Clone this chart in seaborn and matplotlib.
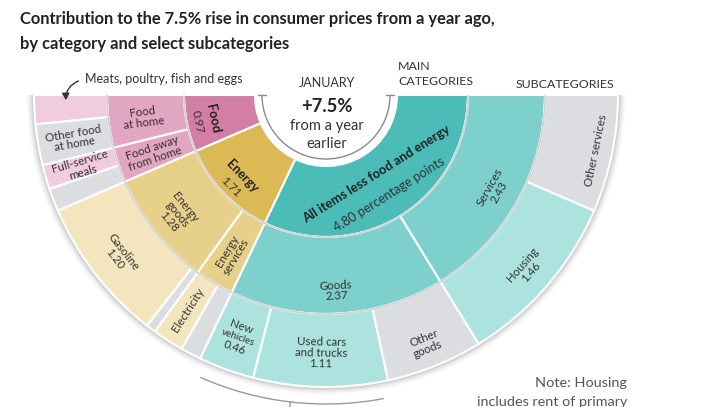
import numpy as np
import matplotlib
matplotlib.use("Agg")
import matplotlib.pyplot as plt
from matplotlib.patches import Wedge, Arc, FancyArrowPatch
import seaborn as sns

# contributions (percentage points) to the 7.5% January rise
main_labels = ["Food", "Energy", "All items less food and energy"]
main_values = [0.97, 1.71, 4.80]

sub_labels = ["Food\nat home", "Food away\nfrom home", "Energy\ngoods\n1.28",
              "Energy\nservices", "Goods\n2.37", "Services\n2.43"]
sub_values = [0.58, 0.39, 1.28, 0.43, 2.37, 2.43]
sub_parent = [0, 0, 1, 1, 2, 2]

outer_labels = ["", "Other food\nat home", "Full-service\nmeals", "",
                "Gasoline\n1.20", "", "Electricity", "",
                "New\nvehicles\n0.46", "Used cars\nand trucks\n1.11", "Other\ngoods",
                "Housing\n1.46", "Other services"]
outer_values = [0.24, 0.34, 0.20, 0.19, 1.20, 0.08, 0.26, 0.17,
                0.46, 1.11, 0.80, 1.46, 0.97]
outer_parent = [0, 0, 0, 0, 1, 1, 1, 1, 2, 2, 2, 2, 2]
outer_other = [False, True, False, True, False, True, False, True,
               False, False, True, False, True]

sns.set_theme(style="white")
plt.rcParams["font.family"] = ["Lato", "DejaVu Sans"]

shades = [sns.blend_palette(["#d27ea5", "#f1cbde"], 3),
          sns.blend_palette(["#dbba55", "#f3e6be"], 3),
          sns.blend_palette(["#4cbcb8", "#ade3df"], 3)]
gray = "#dcdde0"
ink = "#333333"

fig = plt.figure(figsize=(7.13, 4.07), dpi=100)
ax = fig.add_axes([0, 0, 1, 1])
ax.set_xlim(0, 713)
ax.set_ylim(407, 0)
ax.axis("off")

cx, cy = 326, 95
r0, r1, r2, r3 = 71, 142, 219, 292
total = sum(main_values)
scale = 180.0 / total


def spans(values):
    edges = np.concatenate([[0], np.cumsum(values)]) * scale
    # angle measured from the left, going down through the bottom
    return [(180 - b, 180 - a) for a, b in zip(edges[:-1], edges[1:])]


def place(theta, r):
    t = np.deg2rad(theta)
    return cx + r * np.cos(t), cy + r * np.sin(t)


def rot(theta, mode):
    phi = -theta  # screen angle (y up)
    a = phi + 90 if mode == "tan" else phi
    while a > 90:
        a -= 180
    while a <= -90:
        a += 180
    return a


# soft shadow around the outer ring
for k, al in zip(range(1, 9), np.linspace(0.05, 0.01, 8)):
    ax.add_patch(Wedge((cx, cy), r3 + k, 0, 180, width=k + 2, color="#000000",
                       alpha=al, lw=0, zorder=1))

main_sp = spans(main_values)
sub_sp = spans(sub_values)
out_sp = spans(outer_values)

for (t1, t2), i in zip(main_sp, range(3)):
    ax.add_patch(Wedge((cx, cy), r1, t1, t2, width=r1 - r0, facecolor=shades[i][0],
                       edgecolor="white", lw=1.5, zorder=3))
for (t1, t2), p in zip(sub_sp, sub_parent):
    ax.add_patch(Wedge((cx, cy), r2, t1, t2, width=r2 - r1, facecolor=shades[p][1],
                       edgecolor="white", lw=1.5, zorder=3))
for (t1, t2), p, o in zip(out_sp, outer_parent, outer_other):
    ax.add_patch(Wedge((cx, cy), r3, t1, t2, width=r3 - r2,
                       facecolor=gray if o else shades[p][2],
                       edgecolor="white", lw=1.5, zorder=3))

# thin grey ring borders
for r in (r1, r2):
    ax.add_patch(Arc((cx, cy), 2 * r, 2 * r, theta1=0, theta2=180,
                     color="#d0d0d0", lw=1.2, zorder=4))

# inner bracket arc with T ends
ra = 64
ax.add_patch(Arc((cx, cy), 2 * ra, 2 * ra, theta1=0, theta2=180, color="#8a8a8a",
                 lw=1.0, zorder=4))
for sx in (cx - ra, cx + ra):
    ax.plot([sx - 4, sx + 4], [cy, cy], color="#8a8a8a", lw=1.0, zorder=4)

# --- labels ---
fs = 8.3
# main ring
mid = [(a + b) / 2 for a, b in main_sp]
for i, (rb, rn) in enumerate([(116, 131), (117, 132), (94, 118)]):
    val = f"{main_values[i]:.2f}" + (" percentage points" if i == 2 else "")
    x, y = place(mid[i], rb)
    ax.text(x, y, main_labels[i], rotation=rot(mid[i], "tan"), ha="center",
            va="center", fontsize=fs + 1.0, weight="bold", color="#222222",
            rotation_mode="anchor", zorder=5)
    x, y = place(mid[i], rn)
    ax.text(x, y, val, rotation=rot(mid[i], "tan"), ha="center", va="center",
            fontsize=fs + (0.9 if i == 2 else 0.3), color=ink,
            rotation_mode="anchor", zorder=5)

# middle ring
sub_mode = ["rad", "rad", "tan", "rad", "tan", "tan"]
sub_r = [184, 182, 191, 185, 196, 193]
for (t1, t2), lab, m, r in zip(sub_sp, sub_labels, sub_mode, sub_r):
    th = (t1 + t2) / 2
    x, y = place(th, r)
    ax.text(x, y, lab, rotation=rot(th, m), ha="center", va="center",
            fontsize=fs, color=ink, linespacing=1.0,
            rotation_mode="anchor", zorder=5)

# outer ring
out_mode = ["rad", "rad", "rad", "rad", "tan", "rad", "rad", "rad",
            "tan", "tan", "tan", "tan", "tan"]
out_r = [256, 256, 255, 256, 262, 256, 255, 256, 258, 258, 268, 265, 276]
for (t1, t2), lab, m, r in zip(out_sp, outer_labels, out_mode, out_r):
    if not lab:
        continue
    th = (t1 + t2) / 2
    x, y = place(th, r)
    if lab.startswith("New"):
        ax.text(x, y, "New\n\n0.46", rotation=rot(th, m), ha="center", va="center",
                fontsize=fs, color=ink, linespacing=1.0,
                rotation_mode="anchor", zorder=5)
        ax.text(x, y, "vehicles", rotation=rot(th, m), ha="center", va="center",
                fontsize=fs - 1.2, color=ink, rotation_mode="anchor", zorder=5)
        continue
    ax.text(x, y, lab, rotation=rot(th, m), ha="center", va="center",
            fontsize=fs, color=ink, linespacing=1.0,
            rotation_mode="anchor", zorder=5)

# bracket under the car categories
c1, c2 = out_sp[9][0], out_sp[8][1]
rb = 309
ax.add_patch(Arc((cx, cy), 2 * rb, 2 * rb, theta1=c1 + 1.5, theta2=c2 - 1.5,
                 color="#9a9a9a", lw=1.0, zorder=4))
tm = (c1 + c2) / 2
xa, ya = place(tm, rb)
xb, yb = place(tm, rb + 14)
ax.plot([xa, xb], [ya, yb], color="#9a9a9a", lw=1.0, zorder=4)

# centre text
ax.text(cx + 1, 83, "JANUARY", ha="center", va="center", fontsize=9.0, color=ink)
ax.text(cx + 1, 106, "+7.5%", ha="center", va="center", fontsize=13.2,
        weight="bold", color="#222222")
ax.text(cx + 1, 126, "from a year", ha="center", va="center", fontsize=10.5, color=ink)
ax.text(cx + 1, 144, "earlier", ha="center", va="center", fontsize=10.5, color=ink)

ax.text(398, 74, "MAIN\nCATEGORIES", ha="left", va="center", fontsize=8.9,
        color=ink, linespacing=1.45)
ax.text(516, 84, "SUBCATEGORIES", ha="left", va="center", fontsize=8.9, color=ink)

ax.text(85, 79, "Meats, poultry, fish and eggs", ha="left", va="center",
        fontsize=9.0, color=ink)
ax.add_patch(FancyArrowPatch((81, 80), (66, 103), connectionstyle="arc3,rad=0.4",
                             arrowstyle="-|>,head_length=4,head_width=2.2",
                             color="#333333", lw=1.0, zorder=6))

ax.text(627, 383, "Note: Housing", ha="right", va="center", fontsize=10.4,
        color="#555555")
ax.text(627, 402, "includes rent of primary", ha="right", va="center", fontsize=10.4,
        color="#555555")

# title
ax.text(20, 19, "Contribution to the 7.5% rise in consumer prices from a year ago,",
        ha="left", va="center", fontsize=11.9, weight="bold", color="#222222")
ax.text(20, 44, "by category and select subcategories", ha="left", va="center",
        fontsize=11.9, weight="bold", color="#222222")

fig.savefig("out.png", dpi=100)
